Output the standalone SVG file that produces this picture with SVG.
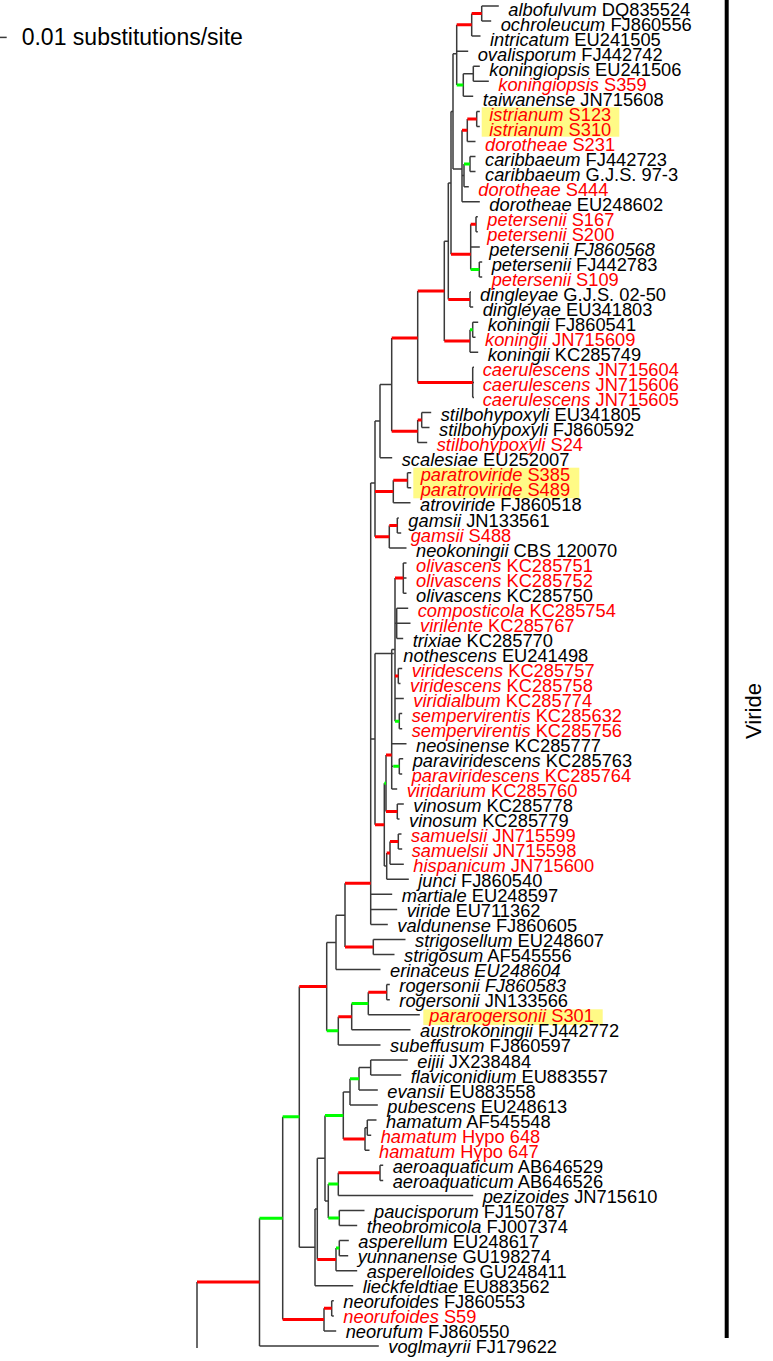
<svg xmlns="http://www.w3.org/2000/svg" width="773" height="1361" viewBox="0 0 773 1361">
<style>
.t{font-family:"Liberation Sans",Arial,sans-serif;font-size:18.3px;fill:#000}
.r{fill:#f00}
.i{font-style:italic}
.e{fill:none}
.gy{stroke:#3a3a3a;stroke-width:1.5}
.rd{stroke:#f00;stroke-width:3}
.gn{stroke:#0f0;stroke-width:3}
.hl{fill:#fffa86}
</style>
<rect width="773" height="1361" fill="#fff"/>
<g id="highlights">
<rect class="hl" x="481.7" y="107.3" width="137.6" height="29.4"/>
<rect class="hl" x="413.3" y="467.7" width="166" height="30.6"/>
<rect class="hl" x="423.3" y="1009.3" width="179.4" height="15.7"/>
</g>
<g id="connectors">
<path class="e gy" d="M197 1282.1V1348M259.5 1218.2V1346M282.7 1116.7V1319.6M324 1308.3V1330.9M331.7 1300.8V1315.9M299.3 986.6V1247.3M315 1208.9V1285.8M317.3 1158.3V1259.4M336 1248.1V1270.7M339.3 1240.6V1255.7M325 1115.5V1201.1M328.3 1184.1V1218M338.3 1172.8V1195.4M380 1165.3V1180.4M339.3 1210.5V1225.5M343.3 1091.9V1139M350 1078.7V1105.1M359 1067.4V1090M370.7 1059.9V1075M365 1127.7V1150.3M367.3 1120.1V1135.2M326.7 942.4V1030.8M338.3 1016.7V1044.9M351.7 1003.5V1029.8M368.3 992.2V1014.8M386.7 984.6V999.7M336 915.2V969.6M345 883.3V947M373.3 939.5V954.5M370.7 483.1V924.4M375 421.1V536.7M375 653.4V824.7M384.3 783.3V866.1M386 755V811.5M397.3 804V819M386.7 852.9V879.2M390 841.6V864.2M398.3 834.1V849.1M391.7 649.6V788.9M399.3 758.8V773.9M395 578.1V721.2M403.3 563.1V593.2M396.7 608.2V638.4M398.3 668.5V683.5M399.3 713.6V728.7M380 384.6V457.7M391.7 337.9V431.3M417.7 291.1V382.4M472.7 367.3V397.5M417.7 420V442.6M421.7 412.5V427.6M393.3 480.3V502.8M407.5 472.7V487.8M389.3 525.4V548M397.3 517.9V533M444.3 241.2V341M448.3 182.9V299.6M470 292.1V307.1M470 329.7V352.3M472.7 322.2V337.2M451 111.4V254.3M470.7 224.3V269.5M476 216.8V231.8M479.3 262V277M453 53.7V169.1M456.7 24.8V85.1M471.7 13.5V36.1M481.7 6V21.1M463.3 73.8V96.3M473.3 66.2V81.3M462 130.2V201.7M467.3 118.9V141.5M476.7 111.4V126.4M464 164.1V186.7M470 156.6V171.6"/>
<path class="e gy" d="M259.5 1346H378.8M324 1330.9H336.2M331.7 1300.8H333.8M331.7 1315.9H333.8M299.3 1247.3H315M315 1208.9H317.3M315 1285.8H353.2M336 1270.7H357.2M339.3 1240.6H348.8M339.3 1255.7H348.2M317.3 1158.3H325M325 1201.1H328.3M338.3 1195.4H473.2M380 1165.3H383.2M380 1180.4H383.2M339.3 1210.5H364.5M339.3 1225.5H357.2M343.3 1091.9H350M350 1105.1H377.8M359 1067.4H370.7M359 1090H377.8M370.7 1059.9H407.8M370.7 1075H401.2M365 1127.7H367.3M365 1150.3H369.5M367.3 1120.1H376.5M367.3 1135.2H371.2M326.7 942.4H336M338.3 1044.9H380.5M351.7 1029.8H410.5M368.3 1014.8H419.8M386.7 984.6H389.8M386.7 999.7H389.8M336 915.2H345M336 969.6H380.5M373.3 939.5H405.5M373.3 954.5H394.5M370.7 894.3H392.2M370.7 909.4H397.2M370.7 924.4H387.8M370.7 483.1H375M370.7 739H375M375 653.4H393.8M384.3 866.1H386.7M386.7 879.2H408.8M390 864.2H403.8M398.3 834.1H401.5M398.3 849.1H402.2M397.3 804H403.8M397.3 819H399.5M391.7 649.6H395M391.7 743.7H406.5M391.7 788.9H397.2M391.7 766.3H393.3M399.3 758.8H403.2M399.3 773.9H402.2M395 623.3H396.7M395 698.6H403.8M403.3 563.1H406.5M403.3 578.1H406.5M403.3 593.2H406.5M396.7 608.2H408.2M396.7 623.3H410.5M396.7 638.4H403.2M398.3 668.5H402.2M398.3 683.5H400.5M399.3 713.6H402.2M399.3 728.7H402.2M375 421.1H380M380 384.6H391.7M380 457.7H392.2M472.7 367.3H474M472.7 382.4H474M472.7 397.5H474M417.7 442.6H427.2M421.7 412.5H431.2M421.7 427.6H429.5M393.3 502.8H410.5M407.5 472.7H411.2M407.5 487.8H411.2M389.3 548H406.5M397.3 517.9H398.8M397.3 533H401.2M444.3 241.2H448.3M448.3 182.9H451M470 292.1H471M470 307.1H473.2M470 352.3H478.2M472.7 322.2H478.2M472.7 337.2H475.5M451 111.4H453M470.7 246.9H479.8M476 216.8H477.8M476 231.8H477.8M479.3 262H482.2M479.3 277H482.2M453 53.7H456.7M453 169.1H462M456.7 51.2H468.2M471.7 36.1H480.5M481.7 6H498.8M481.7 21.1H491.2M463.3 73.8H473.3M463.3 96.3H473.2M473.3 66.2H479.8M473.3 81.3H488.8M462 175.4H464M462 201.7H479.8M467.3 141.5H475.5M476.7 111.4H479.8M476.7 126.4H479.8M464 186.7H468.8M470 156.6H475.5M470 171.6H475.5"/>
<path class="e rd" d="M197 1282.1H259.5M282.7 1319.6H324M324 1308.3H331.7M299.3 986.6H326.7M317.3 1259.4H336M338.3 1172.8H380M343.3 1139H365M338.3 1016.7H351.7M368.3 992.2H386.7M345 883.3H370.7M345 947H373.3M375 491.6H393.3M375 536.7H389.3M391.7 337.9H417.7M391.7 431.3H417.7M417.7 291.1H444.3M417.7 382.4H472.7M417.7 420H421.7M393.3 480.3H407.5M389.3 525.4H397.3M444.3 341H470M448.3 299.6H470M451 254.3H470.7M470.7 224.3H476M456.7 24.8H471.7M471.7 13.5H481.7M462 130.2H467.3M467.3 118.9H476.7M375 824.7H384.3M386 755H391.7M386 811.5H397.3M386.7 852.9H390M390 841.6H398.3M395 578.1H403.3M395 676H398.3"/>
<path class="e gn" d="M259.5 1218.2H282.7M282.7 1116.7H299.3M336 1248.1H339.3M325 1115.5H343.3M328.3 1184.1H338.3M328.3 1218H339.3M350 1078.7H359M326.7 1030.8H338.3M351.7 1003.5H368.3M470 329.7H472.7M470.7 269.5H479.3M456.7 85.1H463.3M464 164.1H470M384.3 783.3H386M393.3 766.3H399.3M395 721.2H399.3"/>
</g>
<g id="leaves" class="t">
<g id="leaf01"><text x="508.3" y="15.5"><tspan class="i">albofulvum</tspan> DQ835524</text></g>
<g id="leaf02"><text x="500.7" y="30.5"><tspan class="i">ochroleucum</tspan> FJ860556</text></g>
<g id="leaf03"><text x="490" y="45.6"><tspan class="i">intricatum</tspan> EU241505</text></g>
<g id="leaf04"><text x="477.7" y="60.6"><tspan class="i">ovalisporum</tspan> FJ442742</text></g>
<g id="leaf05"><text x="489.3" y="75.6"><tspan class="i">koningiopsis</tspan> EU241506</text></g>
<g id="leaf06"><text class="r" x="498.3" y="90.6"><tspan class="i">koningiopsis</tspan> S359</text></g>
<g id="leaf07"><text x="482.7" y="105.7"><tspan class="i">taiwanense</tspan> JN715608</text></g>
<g id="leaf08"><text class="r" x="489.3" y="120.7"><tspan class="i">istrianum</tspan> S123</text></g>
<g id="leaf09"><text class="r" x="489.3" y="135.7"><tspan class="i">istrianum</tspan> S310</text></g>
<g id="leaf10"><text class="r" x="485" y="150.8"><tspan class="i">dorotheae</tspan> S231</text></g>
<g id="leaf11"><text x="485" y="165.8"><tspan class="i">caribbaeum</tspan> FJ442723</text></g>
<g id="leaf12"><text x="485" y="180.8"><tspan class="i">caribbaeum</tspan> G.J.S. 97-3</text></g>
<g id="leaf13"><text class="r" x="478.3" y="195.8"><tspan class="i">dorotheae</tspan> S444</text></g>
<g id="leaf14"><text x="489.3" y="210.9"><tspan class="i">dorotheae</tspan> EU248602</text></g>
<g id="leaf15"><text class="r" x="487.3" y="225.9"><tspan class="i">petersenii</tspan> S167</text></g>
<g id="leaf16"><text class="r" x="487.3" y="240.9"><tspan class="i">petersenii</tspan> S200</text></g>
<g id="leaf17"><text class="i" x="489.3" y="255.9">petersenii FJ860568</text></g>
<g id="leaf18"><text x="491.7" y="271"><tspan class="i">petersenii</tspan> FJ442783</text></g>
<g id="leaf19"><text class="r" x="491.7" y="286"><tspan class="i">petersenii</tspan> S109</text></g>
<g id="leaf20"><text x="480" y="301"><tspan class="i">dingleyae</tspan> G.J.S. 02-50</text></g>
<g id="leaf21"><text x="482.7" y="316.1"><tspan class="i">dingleyae</tspan> EU341803</text></g>
<g id="leaf22"><text x="487.7" y="331.1"><tspan class="i">koningii</tspan> FJ860541</text></g>
<g id="leaf23"><text class="r" x="485" y="346.1"><tspan class="i">koningii</tspan> JN715609</text></g>
<g id="leaf24"><text x="487.7" y="361.1"><tspan class="i">koningii</tspan> KC285749</text></g>
<g id="leaf25"><text class="r" x="482.7" y="376.2"><tspan class="i">caerulescens</tspan> JN715604</text></g>
<g id="leaf26"><text class="r" x="482.7" y="391.2"><tspan class="i">caerulescens</tspan> JN715606</text></g>
<g id="leaf27"><text class="r" x="482.7" y="406.2"><tspan class="i">caerulescens</tspan> JN715605</text></g>
<g id="leaf28"><text x="440.7" y="421.3"><tspan class="i">stilbohypoxyli</tspan> EU341805</text></g>
<g id="leaf29"><text x="439" y="436.3"><tspan class="i">stilbohypoxyli</tspan> FJ860592</text></g>
<g id="leaf30"><text class="r" x="436.7" y="451.3"><tspan class="i">stilbohypoxyli</tspan> S24</text></g>
<g id="leaf31"><text x="401.7" y="466.3"><tspan class="i">scalesiae</tspan> EU252007</text></g>
<g id="leaf32"><text class="r" x="420.7" y="481.4"><tspan class="i">paratroviride</tspan> S385</text></g>
<g id="leaf33"><text class="r" x="420.7" y="496.4"><tspan class="i">paratroviride</tspan> S489</text></g>
<g id="leaf34"><text x="420" y="511.4"><tspan class="i">atroviride</tspan> FJ860518</text></g>
<g id="leaf35"><text x="408.3" y="526.5"><tspan class="i">gamsii</tspan> JN133561</text></g>
<g id="leaf36"><text class="r" x="410.7" y="541.5"><tspan class="i">gamsii</tspan> S488</text></g>
<g id="leaf37"><text x="416" y="556.5"><tspan class="i">neokoningii</tspan> CBS 120070</text></g>
<g id="leaf38"><text class="r" x="416" y="571.5"><tspan class="i">olivascens</tspan> KC285751</text></g>
<g id="leaf39"><text class="r" x="416" y="586.6"><tspan class="i">olivascens</tspan> KC285752</text></g>
<g id="leaf40"><text x="416" y="601.6"><tspan class="i">olivascens</tspan> KC285750</text></g>
<g id="leaf41"><text class="r" x="417.7" y="616.6"><tspan class="i">composticola</tspan> KC285754</text></g>
<g id="leaf42"><text class="r" x="420" y="631.7"><tspan class="i">virilente</tspan> KC285767</text></g>
<g id="leaf43"><text x="412.7" y="646.7"><tspan class="i">trixiae</tspan> KC285770</text></g>
<g id="leaf44"><text x="403.3" y="661.7"><tspan class="i">nothescens</tspan> EU241498</text></g>
<g id="leaf45"><text class="r" x="411.7" y="676.7"><tspan class="i">viridescens</tspan> KC285757</text></g>
<g id="leaf46"><text class="r" x="410" y="691.8"><tspan class="i">viridescens</tspan> KC285758</text></g>
<g id="leaf47"><text class="r" x="413.3" y="706.8"><tspan class="i">viridialbum</tspan> KC285774</text></g>
<g id="leaf48"><text class="r" x="411.7" y="721.8"><tspan class="i">sempervirentis</tspan> KC285632</text></g>
<g id="leaf49"><text class="r" x="411.7" y="736.9"><tspan class="i">sempervirentis</tspan> KC285756</text></g>
<g id="leaf50"><text x="416" y="751.9"><tspan class="i">neosinense</tspan> KC285777</text></g>
<g id="leaf51"><text x="412.7" y="766.9"><tspan class="i">paraviridescens</tspan> KC285763</text></g>
<g id="leaf52"><text class="r" x="411.7" y="781.9"><tspan class="i">paraviridescens</tspan> KC285764</text></g>
<g id="leaf53"><text class="r" x="406.7" y="797"><tspan class="i">viridarium</tspan> KC285760</text></g>
<g id="leaf54"><text x="413.3" y="812"><tspan class="i">vinosum</tspan> KC285778</text></g>
<g id="leaf55"><text x="409" y="827"><tspan class="i">vinosum</tspan> KC285779</text></g>
<g id="leaf56"><text class="r" x="411" y="842.1"><tspan class="i">samuelsii</tspan> JN715599</text></g>
<g id="leaf57"><text class="r" x="411.7" y="857.1"><tspan class="i">samuelsii</tspan> JN715598</text></g>
<g id="leaf58"><text class="r" x="413.3" y="872.1"><tspan class="i">hispanicum</tspan> JN715600</text></g>
<g id="leaf59"><text x="418.3" y="887.1"><tspan class="i">junci</tspan> FJ860540</text></g>
<g id="leaf60"><text x="401.7" y="902.2"><tspan class="i">martiale</tspan> EU248597</text></g>
<g id="leaf61"><text x="406.7" y="917.2"><tspan class="i">viride</tspan> EU711362</text></g>
<g id="leaf62"><text x="397.3" y="932.2"><tspan class="i">valdunense</tspan> FJ860605</text></g>
<g id="leaf63"><text x="415" y="947.3"><tspan class="i">strigosellum</tspan> EU248607</text></g>
<g id="leaf64"><text x="404" y="962.3"><tspan class="i">strigosum</tspan> AF545556</text></g>
<g id="leaf65"><text class="i" x="390" y="977.3">erinaceus EU248604</text></g>
<g id="leaf66"><text class="i" x="399.3" y="992.3">rogersonii FJ860583</text></g>
<g id="leaf67"><text x="399.3" y="1007.4"><tspan class="i">rogersonii</tspan> JN133566</text></g>
<g id="leaf68"><text class="r" x="429.3" y="1022.4"><tspan class="i">pararogersonii</tspan> S301</text></g>
<g id="leaf69"><text x="420" y="1037.4"><tspan class="i">austrokoningii</tspan> FJ442772</text></g>
<g id="leaf70"><text x="390" y="1052.4"><tspan class="i">subeffusum</tspan> FJ860597</text></g>
<g id="leaf71"><text x="417.3" y="1067.5"><tspan class="i">eijii</tspan> JX238484</text></g>
<g id="leaf72"><text x="410.7" y="1082.5"><tspan class="i">flaviconidium</tspan> EU883557</text></g>
<g id="leaf73"><text x="387.3" y="1097.5"><tspan class="i">evansii</tspan> EU883558</text></g>
<g id="leaf74"><text x="387.3" y="1112.6"><tspan class="i">pubescens</tspan> EU248613</text></g>
<g id="leaf75"><text x="386" y="1127.6"><tspan class="i">hamatum</tspan> AF545548</text></g>
<g id="leaf76"><text class="r" x="380.7" y="1142.6"><tspan class="i">hamatum</tspan> Hypo 648</text></g>
<g id="leaf77"><text class="r" x="379" y="1157.6"><tspan class="i">hamatum</tspan> Hypo 647</text></g>
<g id="leaf78"><text x="392.7" y="1172.7"><tspan class="i">aeroaquaticum</tspan> AB646529</text></g>
<g id="leaf79"><text x="392.7" y="1187.7"><tspan class="i">aeroaquaticum</tspan> AB646526</text></g>
<g id="leaf80"><text x="482.7" y="1202.7"><tspan class="i">pezizoides</tspan> JN715610</text></g>
<g id="leaf81"><text x="374" y="1217.8"><tspan class="i">paucisporum</tspan> FJ150787</text></g>
<g id="leaf82"><text x="366.7" y="1232.8"><tspan class="i">theobromicola</tspan> FJ007374</text></g>
<g id="leaf83"><text x="358.3" y="1247.8"><tspan class="i">asperellum</tspan> EU248617</text></g>
<g id="leaf84"><text x="357.7" y="1262.8"><tspan class="i">yunnanense</tspan> GU198274</text></g>
<g id="leaf85"><text x="366.7" y="1277.9"><tspan class="i">asperelloides</tspan> GU248411</text></g>
<g id="leaf86"><text x="362.7" y="1292.9"><tspan class="i">lieckfeldtiae</tspan> EU883562</text></g>
<g id="leaf87"><text x="343.3" y="1307.9"><tspan class="i">neorufoides</tspan> FJ860553</text></g>
<g id="leaf88"><text class="r" x="343.3" y="1323"><tspan class="i">neorufoides</tspan> S59</text></g>
<g id="leaf89"><text x="345.7" y="1338"><tspan class="i">neorufum</tspan> FJ860550</text></g>
<g id="leaf90"><text x="388.3" y="1353"><tspan class="i">voglmayrii</tspan> FJ179622</text></g>
</g>
<g id="scale">
<path class="e gy" d="M0 37.4H6.7"/>
<text x="21.7" y="45" style="font-family:'Liberation Sans',Arial,sans-serif;font-size:23px">0.01 substitutions/site</text>
</g>
<g id="clade-viride">
<path d="M726.7 0V1338" stroke="#000" stroke-width="4" fill="none"/>
<text transform="translate(761,711) rotate(-90)" text-anchor="middle" style="font-family:'Liberation Sans',Arial,sans-serif;font-size:22px">Viride</text>
</g>
</svg>
